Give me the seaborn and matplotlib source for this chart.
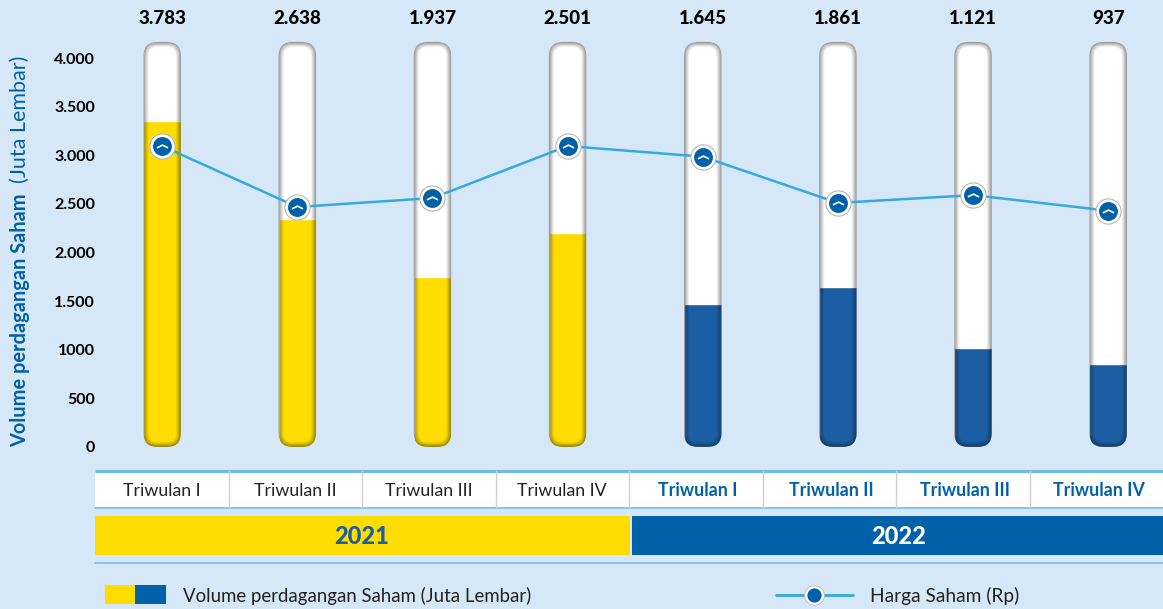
import matplotlib
matplotlib.use("Agg")
import matplotlib.pyplot as plt
import seaborn as sns
import pandas as pd
from matplotlib.patches import FancyBboxPatch, Rectangle
from matplotlib.path import Path
from matplotlib.transforms import IdentityTransform

# ---- data ----
quarters = ["Triwulan I", "Triwulan II", "Triwulan III", "Triwulan IV"] * 2
years = ["2021"] * 4 + ["2022"] * 4
labels = ["3.783", "2.638", "1.937", "2.501", "1.645", "1.861", "1.121", "937"]
volume = [3355, 2345, 1745, 2205, 1470, 1645, 1022, 850]
price = [3095, 2468, 2560, 3095, 2985, 2510, 2590, 2430]
tube_top = [4165] * 8
yticks = [0, 500, 1000, 1500, 2000, 2500, 3000, 3500, 4000]
yticklabels = ["0", "500", "1000", "1.500", "2.000", "2.500", "3.000", "3.500", "4.000"]

BG = "#D6E8F8"
YEL = "#FFDD00"
BAR_BLUE = "#1C5EA3"
BLUE = "#0060A8"
LINE = "#35A9E0"
RULE = "#6DBBEC"
W, H = 1163, 609

sns.set_theme(style="white")
plt.rcParams["font.family"] = ["Lato", "DejaVu Sans"]

df = pd.DataFrame({"pos": [f"{y} {q}" for y, q in zip(years, quarters)],
                   "idx": range(8), "year": years, "volume": volume,
                   "price": price, "tube": tube_top})

fig = plt.figure(figsize=(W / 100, H / 100), dpi=100, facecolor=BG)
# main chart: x from 95 to right edge, y from px 447 to top of figure
ax = fig.add_axes([95 / W, (H - 447) / H, 1 - 95 / W, 447 / H])
ax.set_facecolor("none")

bw = 37.5 / 135.14
sns.barplot(data=df, x="pos", y="tube", color="white", saturation=1, width=bw, ax=ax, zorder=2)
sns.barplot(data=df, x="pos", y="volume", hue="year", palette={"2021": YEL, "2022": BAR_BLUE},
            saturation=1, dodge=False, width=bw, legend=False, ax=ax, zorder=3)

ax.set_xlim((95 - 162.2) / 135.14, (W - 162.2) / 135.14)
ax.set_ylim(0, 447 / 0.09725)
fig.canvas.draw()

to_px = ax.transData.transform
radius = 14
alphas = [0.40, 0.32, 0.22, 0.13, 0.06]
for i in range(8):
    (x0, y0) = to_px((i - bw / 2, 0))
    (x1, y1) = to_px((i + bw / 2, tube_top[i]))
    clip = FancyBboxPatch((x0 + radius, y0 + radius), x1 - x0 - 2 * radius, y1 - y0 - 2 * radius,
                          boxstyle=f"round,pad={radius},rounding_size={radius}",
                          transform=IdentityTransform(), fc="none", ec="none")
    for p in ax.patches:
        if abs(p.get_x() + p.get_width() / 2 - i) < 0.01:
            p.set_clip_path(clip)
    for k, a in enumerate(alphas):
        ins = k + 0.5
        rr = radius - ins
        edge = FancyBboxPatch((x0 + radius, y0 + radius), x1 - x0 - 2 * radius, y1 - y0 - 2 * radius,
                              boxstyle=f"round,pad={rr},rounding_size={rr}",
                              transform=IdentityTransform(), fc="none", ec=(0.05, 0.05, 0.05, a),
                              lw=0.75, zorder=4)
        ax.add_artist(edge)

# price line
sns.lineplot(data=df, x="idx", y="price", color=LINE, lw=1.8, ax=ax, zorder=5, errorbar=None)
ax.scatter(df["idx"], df["price"], s=330, color="white", edgecolor="#B5B5B5", linewidth=0.8, zorder=6)
ax.scatter(df["idx"], df["price"], s=185, color=BLUE, linewidth=0, zorder=7)
chev = Path([(-1, -0.25), (0, 0.25), (1, -0.25)])
ax.plot(df["idx"], df["price"], ls="none", marker=chev, ms=8, mfc="none", mec="white", mew=1.2, zorder=8)

# value labels
for i, t in enumerate(labels):
    ax.text(i, 1 - 19 / 447, t, transform=ax.get_xaxis_transform(), ha="center", va="center",
            fontsize=13.5, fontweight=900, color="black")

ax.set_yticks(yticks, yticklabels, fontsize=11.5, fontweight="bold", color="black")
ax.set_xticks([])
ax.set_xlabel("")
ax.set_ylabel("")
ax.tick_params(axis="y", length=0, pad=0)
for s in ax.spines.values():
    s.set_visible(False)

# overlay in pixel units: quarter table, year bands, legend, axis title
ov = fig.add_axes([0, 0, 1, 1], zorder=-1)
ov.set_xlim(0, W)
ov.set_ylim(H, 0)
ov.axis("off")
ov.set_facecolor("none")

cell = 133.5
ov.add_patch(Rectangle((95, 471), W - 95, 36, fc="white", ec="none"))
ov.plot([95, W], [470.5, 470.5], color=RULE, lw=2.2, solid_capstyle="butt")
ov.plot([95, W], [507.5, 507.5], color=RULE, lw=1.1)
ov.plot([95, W], [562.5, 562.5], color=RULE, lw=1.1)
for i in range(8):
    if i:
        ov.plot([95 + i * cell] * 2, [471, 507], color="#CFCFCF", lw=1)
    bold = years[i] == "2022"
    ov.text(95 + (i + 0.5) * cell + (2.5 if bold else 0), 490.5, quarters[i], ha="center", va="center",
            fontsize=12.8, color=BLUE if bold else "#222222", fontweight="bold" if bold else "normal")

ov.add_patch(Rectangle((95, 516), 535, 39, fc=YEL, ec="none"))
ov.add_patch(Rectangle((632, 516), W - 632, 39, fc=BLUE, ec="none"))
ov.text(362, 536, years[0], ha="center", va="center", fontsize=17, fontweight=900, color="#1C5EA3")
ov.text(899, 536, years[4], ha="center", va="center", fontsize=17, fontweight=900, color="white")

ov.add_patch(Rectangle((105, 585), 30, 19, fc=YEL, ec="none"))
ov.add_patch(Rectangle((135, 585), 31, 19, fc=BLUE, ec="none"))
ov.text(183, 596, "Volume perdagangan Saham (Juta Lembar)", va="center", fontsize=13.4, color="#222222")
ov.plot([776, 853], [595, 595], color=LINE, lw=2)
ov.scatter([814], [595], s=200, color="white", edgecolor="#B5B5B5", linewidth=0.6, zorder=3)
ov.scatter([814], [595], s=105, color=BLUE, linewidth=0, zorder=4)
ov.text(870, 596, "Harga Saham (Rp)", va="center", fontsize=13.8, color="#222222")

ov.text(20, 447, "Volume perdagangan Saham", rotation=90, ha="center", va="bottom",
        fontsize=14.4, fontweight="bold", color=BLUE)
ov.text(20, 183, "(Juta Lembar)", rotation=90, ha="center", va="bottom",
        fontsize=15.5, fontweight="normal", color=BLUE)

fig.savefig("out.png", dpi=100, facecolor=BG)
